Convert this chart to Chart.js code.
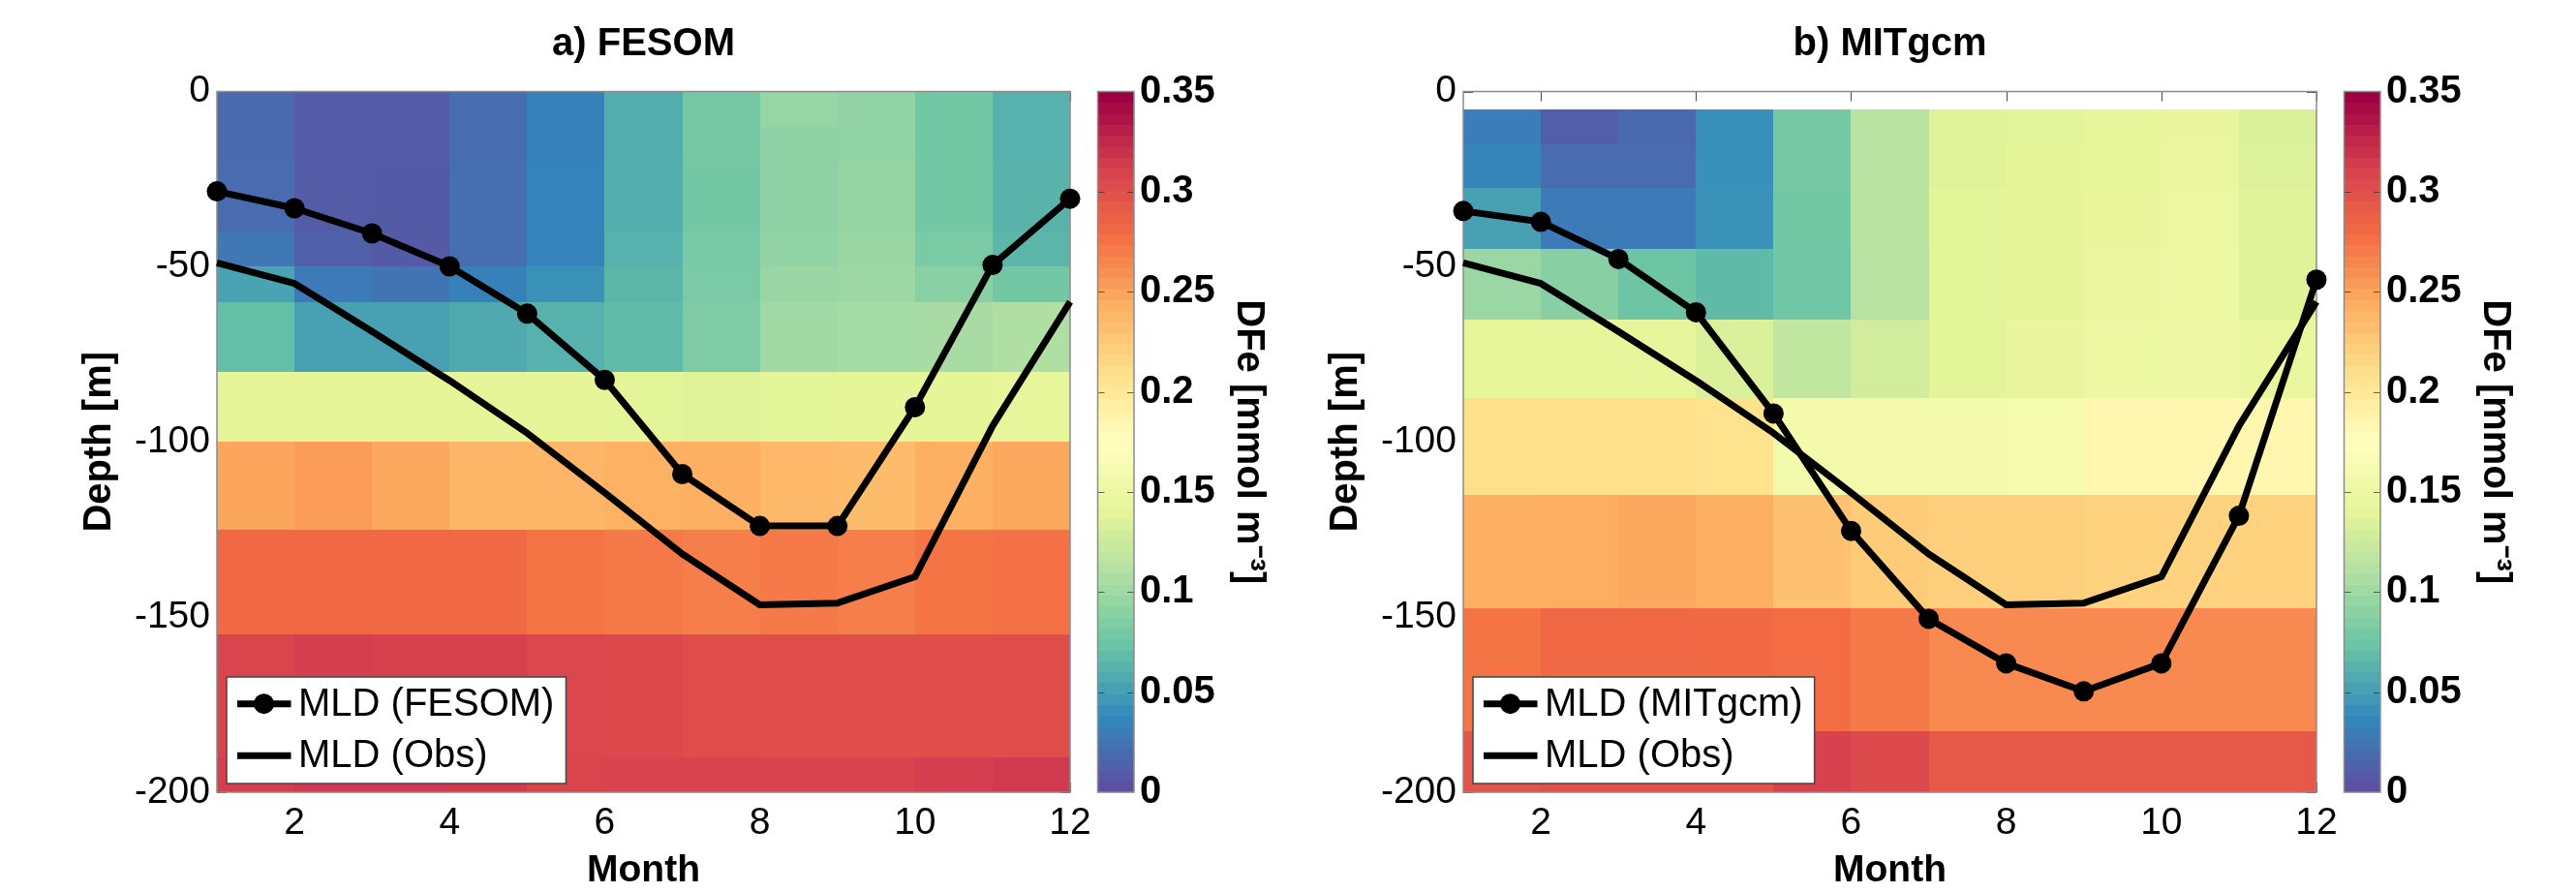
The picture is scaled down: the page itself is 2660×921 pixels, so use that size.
<!DOCTYPE html>
<html>
<head>
<meta charset="utf-8">
<script src="https://cdn.jsdelivr.net/npm/chart.js@4.4.1/dist/chart.umd.min.js"></script>
<style>
  html, body { margin: 0; padding: 0; background: #fff; }
  #wrap { position: relative; width: 2660px; height: 921px; overflow: hidden; }
  canvas { position: absolute; top: 0; }
  #panelA { left: 0; }
  #panelB { left: 1287px; }
</style>
</head>
<body>
<div id="wrap">
  <canvas id="panelA" width="1330" height="921"></canvas>
  <canvas id="panelB" width="1330" height="921"></canvas>
</div>
<script>
const FONT = "'Liberation Sans', Arial, Helvetica, sans-serif";

const months = [1, 2, 3, 4, 5, 6, 7, 8, 9, 10, 11, 12];
const xTickValues = [2, 4, 6, 8, 10, 12];
const depthTickValues = [-200, -150, -100, -50, 0];
const cbTickValues = [0, 0.05, 0.1, 0.15, 0.2, 0.25, 0.3, 0.35];
const cbTickLabels = ["0", "0.05", "0.1", "0.15", "0.2", "0.25", "0.3", "0.35"];
const cbMax = 0.35;

// mixed layer depth [m]
const mldObs = [-48.9, -54.8, -68.5, -82.5, -97.5, -114.5, -132, -146.5, -146, -138.5, -95.5, -60];
const mldFesom = [-28.5, -33.3, -40.5, -49.9, -63.4, -82.3, -109.2, -124, -124, -90.1, -49.5, -30.6];
const mldMitgcm = [-34.1, -37.2, -47.8, -63, -91.9, -125.4, -150.5, -163.2, -171.2, -163.2, -121.1, -53.7];

// DFe cells: rows between depth edges, columns between months
const fesomEdges = [0, -10, -20, -40, -50, -60, -80, -100, -125, -155, -190, -200];
const fesomDFe = [
  [0.016, 0.008, 0.008, 0.018, 0.031, 0.057, 0.078, 0.095, 0.092, 0.076, 0.060],
  [0.016, 0.008, 0.008, 0.018, 0.031, 0.057, 0.078, 0.090, 0.092, 0.076, 0.060],
  [0.017, 0.008, 0.007, 0.019, 0.032, 0.058, 0.077, 0.090, 0.094, 0.077, 0.061],
  [0.025, 0.011, 0.007, 0.019, 0.032, 0.060, 0.079, 0.092, 0.096, 0.080, 0.063],
  [0.051, 0.027, 0.022, 0.031, 0.041, 0.063, 0.080, 0.096, 0.098, 0.088, 0.077],
  [0.068, 0.050, 0.050, 0.055, 0.060, 0.066, 0.082, 0.100, 0.102, 0.104, 0.108],
  [0.141, 0.141, 0.141, 0.140, 0.140, 0.138, 0.137, 0.138, 0.140, 0.141, 0.142],
  [0.250, 0.254, 0.248, 0.240, 0.240, 0.243, 0.244, 0.238, 0.236, 0.244, 0.249],
  [0.283, 0.284, 0.283, 0.283, 0.276, 0.273, 0.271, 0.273, 0.271, 0.276, 0.278],
  [0.310, 0.315, 0.313, 0.313, 0.308, 0.307, 0.304, 0.303, 0.303, 0.303, 0.303],
  [0.315, 0.318, 0.318, 0.317, 0.310, 0.311, 0.311, 0.311, 0.311, 0.314, 0.318]
];
const mitgcmEdges = [-5, -15, -27.5, -45, -65, -87.5, -115, -147.5, -182.5, -200];
const mitgcmDFe = [
  [0.028, 0.010, 0.016, 0.040, 0.078, 0.113, 0.137, 0.139, 0.142, 0.145, 0.133],
  [0.033, 0.017, 0.017, 0.040, 0.078, 0.113, 0.137, 0.140, 0.143, 0.146, 0.134],
  [0.050, 0.027, 0.027, 0.041, 0.076, 0.114, 0.138, 0.140, 0.144, 0.148, 0.137],
  [0.097, 0.087, 0.074, 0.065, 0.075, 0.112, 0.139, 0.141, 0.146, 0.150, 0.137],
  [0.142, 0.143, 0.142, 0.133, 0.118, 0.127, 0.138, 0.145, 0.150, 0.151, 0.146],
  [0.210, 0.210, 0.210, 0.208, 0.158, 0.158, 0.158, 0.160, 0.185, 0.185, 0.185],
  [0.244, 0.245, 0.248, 0.244, 0.232, 0.225, 0.222, 0.222, 0.220, 0.220, 0.220],
  [0.276, 0.283, 0.283, 0.282, 0.281, 0.273, 0.265, 0.265, 0.265, 0.265, 0.265],
  [0.298, 0.300, 0.300, 0.300, 0.312, 0.307, 0.296, 0.296, 0.296, 0.296, 0.296]
];

// reversed brewer Spectral; the colorbar is drawn in 64 bands like the matlab colormap
const spectral = ["#5e4fa2", "#3288bd", "#66c2a5", "#abdda4", "#e6f598", "#ffffbf",
                  "#fee08b", "#fdae61", "#f46d43", "#d53e4f", "#9e0142"];
const nLevels = 64;

function hexRgb(h) {
  return [parseInt(h.slice(1, 3), 16), parseInt(h.slice(3, 5), 16), parseInt(h.slice(5, 7), 16)];
}
function cmap(t) {
  const p = Math.min(Math.max(t, 0), 1) * (spectral.length - 1);
  const i = Math.min(Math.floor(p), spectral.length - 2);
  const f = p - i;
  const a = hexRgb(spectral[i]), b = hexRgb(spectral[i + 1]);
  const c = a.map((v, k) => Math.round(v + (b[k] - v) * f));
  return `rgb(${c[0]},${c[1]},${c[2]})`;
}
function dfeColor(v) {
  return cmap(v / cbMax);
}

function heatmapPlugin(edges, values) {
  return {
    id: "heatmap",
    beforeDatasetsDraw(chart) {
      const { ctx, chartArea: ca, scales: { x, y } } = chart;
      ctx.save();
      // matlab inner ticks (under the cells)
      ctx.strokeStyle = "#555";
      ctx.lineWidth = 1.2;
      ctx.beginPath();
      xTickValues.forEach(v => {
        const px = Math.round(x.getPixelForValue(v)) + 0.5;
        ctx.moveTo(px, ca.top); ctx.lineTo(px, ca.top + 10);
        ctx.moveTo(px, ca.bottom); ctx.lineTo(px, ca.bottom - 10);
      });
      depthTickValues.forEach(v => {
        const py = Math.round(y.getPixelForValue(v)) + 0.5;
        ctx.moveTo(ca.left, py); ctx.lineTo(ca.left + 10, py);
        ctx.moveTo(ca.right, py); ctx.lineTo(ca.right - 10, py);
      });
      ctx.stroke();

      ctx.beginPath();
      ctx.rect(ca.left, ca.top, ca.width, ca.height);
      ctx.clip();
      for (let r = 0; r < values.length; r++) {
        const y0 = Math.round(y.getPixelForValue(edges[r]));
        const y1 = Math.round(y.getPixelForValue(edges[r + 1]));
        for (let c = 0; c < values[r].length; c++) {
          const x0 = Math.round(x.getPixelForValue(months[c]));
          const x1 = Math.round(x.getPixelForValue(months[c + 1]));
          ctx.fillStyle = dfeColor(values[r][c]);
          ctx.fillRect(x0, y0, x1 - x0, y1 - y0);
        }
      }
      ctx.restore();

      ctx.save();
      ctx.strokeStyle = "#8c8c8c";
      ctx.lineWidth = 1.5;
      ctx.strokeRect(ca.left, ca.top, ca.width, ca.height);
      ctx.restore();
    }
  };
}

const colorbarPlugin = {
  id: "colorbar",
  afterDraw(chart) {
    const { ctx, chartArea: ca, scales: { cb } } = chart;
    const left = ca.right + 28.5, right = ca.right + 66;
    ctx.save();
    for (let i = 0; i < nLevels; i++) {
      const yTop = Math.floor(cb.getPixelForValue(cbMax * (i + 1) / nLevels));
      const yBot = Math.ceil(cb.getPixelForValue(cbMax * i / nLevels));
      ctx.fillStyle = cmap(i / (nLevels - 1));
      ctx.fillRect(left, yTop, right - left, yBot - yTop);
    }
    ctx.strokeStyle = "rgba(40,40,40,0.7)";
    ctx.lineWidth = 1.2;
    ctx.beginPath();
    cbTickValues.slice(1, -1).forEach(v => {
      const py = Math.round(cb.getPixelForValue(v)) + 0.5;
      ctx.moveTo(left, py); ctx.lineTo(left + 7, py);
      ctx.moveTo(right, py); ctx.lineTo(right - 7, py);
    });
    ctx.stroke();
    ctx.strokeStyle = "#8c8c8c";
    ctx.lineWidth = 1.5;
    ctx.strokeRect(left, cb.getPixelForValue(cbMax), right - left, cb.getPixelForValue(0) - cb.getPixelForValue(cbMax));
    ctx.restore();
  }
};

const legendPlugin = {
  id: "mldLegend",
  afterDatasetsDraw(chart) {
    const { ctx, chartArea: ca } = chart;
    const sets = chart.data.datasets;
    ctx.save();
    ctx.font = `40px ${FONT}`;
    const textW = Math.max(...sets.map(d => ctx.measureText(d.label).width));
    const w = 74 + textW + 12, h = 110;
    const x0 = ca.left + 10, y0 = ca.bottom - 9 - h;
    ctx.fillStyle = "#fff";
    ctx.fillRect(x0, y0, w, h);
    ctx.strokeStyle = "#444";
    ctx.lineWidth = 1.5;
    ctx.strokeRect(x0, y0, w, h);
    sets.forEach((d, i) => {
      const cy = y0 + 27.7 + i * 53.6;
      ctx.strokeStyle = d.borderColor;
      ctx.lineWidth = d.borderWidth;
      ctx.beginPath();
      ctx.moveTo(x0 + 11, cy);
      ctx.lineTo(x0 + 66.5, cy);
      ctx.stroke();
      if (d.pointRadius > 0) {
        ctx.fillStyle = d.pointBackgroundColor;
        ctx.beginPath();
        ctx.arc(x0 + 38.5, cy, d.pointRadius, 0, Math.PI * 2);
        ctx.fill();
      }
      ctx.fillStyle = "#000";
      ctx.textBaseline = "middle";
      ctx.textAlign = "left";
      ctx.fillText(d.label, x0 + 74, cy + 1);
    });
    ctx.restore();
  }
};

function makePanel(canvasId, title, modelLabel, modelMld, edges, values) {
  const line = (label, ys, radius) => ({
    label,
    data: months.map((m, i) => ({ x: m, y: ys[i] })),
    showLine: true,
    borderColor: "#000",
    backgroundColor: "#000",
    pointBackgroundColor: "#000",
    pointBorderWidth: 0,
    borderWidth: 7,
    pointRadius: radius,
    borderJoinStyle: "round",
    tension: 0,
    clip: false
  });
  return new Chart(document.getElementById(canvasId), {
    type: "scatter",
    data: {
      datasets: [
        line(modelLabel, modelMld, 10.5),
        line("MLD (Obs)", mldObs, 0)
      ]
    },
    options: {
      responsive: false,
      devicePixelRatio: 1,
      animation: false,
      events: [],
      layout: { padding: { left: 79, right: 17, top: 0, bottom: 0 } },
      plugins: {
        legend: { display: false },
        tooltip: { enabled: false },
        title: {
          display: true,
          text: title,
          fullSize: false,
          color: "#000",
          font: { family: FONT, size: 40, weight: "bold", lineHeight: 1.2 },
          padding: { top: 22, bottom: 24.5 }
        }
      },
      scales: {
        x: {
          type: "linear",
          position: "bottom",
          min: 1,
          max: 12,
          afterBuildTicks: s => { s.ticks = xTickValues.map(v => ({ value: v })); },
          afterFit: s => { s.height = 103; },
          grid: { display: false, drawTicks: false },
          border: { display: false },
          ticks: { padding: 8.6, color: "#000", maxRotation: 0, font: { family: FONT, size: 39 }, callback: v => String(v) },
          title: { display: true, text: "Month", color: "#000", padding: 0,
                   font: { family: FONT, size: 39, weight: "bold", lineHeight: 1.1 } }
        },
        y: {
          type: "linear",
          position: "left",
          min: -200,
          max: 0,
          afterBuildTicks: s => { s.ticks = depthTickValues.map(v => ({ value: v })); },
          afterFit: s => { s.width = 145; },
          grid: { display: false, drawTicks: false },
          border: { display: false },
          ticks: { padding: 7, color: "#000", font: { family: FONT, size: 39 }, callback: v => String(v) },
          title: { display: true, text: "Depth [m]", color: "#000", padding: 0,
                   font: { family: FONT, size: 40, weight: "bold", lineHeight: 1.2 } }
        },
        cb: {
          type: "linear",
          position: "right",
          min: 0,
          max: cbMax,
          afterBuildTicks: s => { s.ticks = cbTickValues.map(v => ({ value: v })); },
          afterFit: s => { s.width = 208; },
          grid: { display: false, drawOnChartArea: false, drawTicks: true, tickLength: 66 },
          border: { display: false },
          ticks: { padding: 6, color: "#000", font: { family: FONT, size: 40, weight: "bold" },
                   callback: (v, i) => cbTickLabels[i] },
          title: { display: true, text: "DFe [mmol m\u207B\u00B3]", color: "#000", padding: 0,
                   font: { family: FONT, size: 40, weight: "bold", lineHeight: 1.2 } }
        }
      }
    },
    plugins: [heatmapPlugin(edges, values), colorbarPlugin, legendPlugin]
  });
}

makePanel("panelA", "a) FESOM", "MLD (FESOM)", mldFesom, fesomEdges, fesomDFe);
makePanel("panelB", "b) MITgcm", "MLD (MITgcm)", mldMitgcm, mitgcmEdges, mitgcmDFe);
</script>
</body>
</html>
